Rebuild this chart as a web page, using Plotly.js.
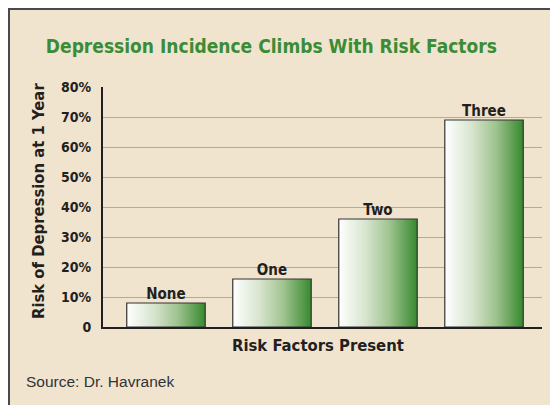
<!DOCTYPE html>
<html><head><meta charset="utf-8">
<script src="https://cdn.plot.ly/plotly-3.0.1.min.js"></script>
<style>
html,body{margin:0;padding:0;background:#fff;}
#frame{position:absolute;left:8px;top:8px;width:540px;height:395px;border-left:2px solid #4a4a4a;border-top:2px solid #4a4a4a;background:#f0e4cf;}
#chart{width:540px;height:395px;}
</style>
</head><body>
<div id="frame"><div id="chart"></div></div>
<script>
const categories = ['None', 'One', 'Two', 'Three'];
const riskValues = [8, 16, 36, 69];
const tickVals = [0, 10, 20, 30, 40, 50, 60, 70, 80];
const tickLabels = ['0', '10%', '20%', '30%', '40%', '50%', '60%', '70%', '80%'];

const COND = '"DejaVu Sans Condensed", "Liberation Sans Narrow", "Arial Narrow", sans-serif';
const barW = 0.74;
const traces = [];
categories.forEach((c, i) => {
  const x0 = i - barW / 2, x1 = i + barW / 2, v = riskValues[i];
  traces.push({
    type: 'scatter', mode: 'lines',
    x: [x0, x0, x1, x1, x0], y: [0, v, v, 0, 0],
    fill: 'toself',
    fillgradient: {type: 'horizontal', colorscale: [[0, '#ffffff'], [0.35, '#d6e4cd'], [0.65, '#9fc38f'], [1, '#37892f']]},
    line: {color: '#333333', width: 1.2},
    hoverinfo: 'skip', showlegend: false
  });
});
traces.push({
  type: 'scatter', mode: 'text',
  x: categories.map((c, i) => i), y: riskValues, text: categories,
  textposition: 'top center',
  textfont: {family: COND, size: 15, color: '#231f20', weight: 'bold'},
  hoverinfo: 'skip', showlegend: false
});

const layout = {
  width: 540, height: 395,
  margin: {l: 93, r: 8, t: 77, b: 78},
  paper_bgcolor: '#f0e4cf', plot_bgcolor: '#f0e4cf',
  font: {family: COND, color: '#231f20'},
  title: {text: 'Depression Incidence Climbs With Risk Factors', x: 0.484, xanchor: 'center', y: 0.909, yanchor: 'middle',
          font: {family: COND, size: 19, color: '#3a8c35', weight: 'bold'}},
  xaxis: {range: [-0.594, 3.547], showticklabels: false, ticks: '', showgrid: false, zeroline: false,
          showline: true, linecolor: '#231f20', linewidth: 2, fixedrange: true},
  yaxis: {range: [0, 80], tickvals: tickVals, ticktext: tickLabels, ticks: '', showgrid: true,
          gridcolor: '#b0aaa0', gridwidth: 1, zeroline: false, showline: true, linecolor: '#231f20', linewidth: 2,
          tickfont: {family: COND, size: 14, color: '#231f20', weight: 'bold'}, ticklabelstandoff: 7, fixedrange: true},
  annotations: [
    {text: 'Risk of Depression at 1 Year', textangle: -90, xref: 'paper', yref: 'paper', x: -0.148, y: 0.525,
     xanchor: 'center', yanchor: 'middle', showarrow: false, font: {family: COND, size: 16.5, color: '#231f20', weight: 'bold'}},
    {text: 'Risk Factors Present', xref: 'paper', yref: 'paper', x: 0.49, y: -0.075, xanchor: 'center', yanchor: 'middle',
     showarrow: false, font: {family: COND, size: 16.5, color: '#231f20', weight: 'bold'}},
    {text: 'Source: Dr. Havranek', xref: 'paper', yref: 'paper', x: -0.180, y: -0.225, xanchor: 'left', yanchor: 'middle',
     showarrow: false, font: {family: '"Liberation Sans", Arial, sans-serif', size: 15.5, color: '#333333'}}
  ]
};
Plotly.newPlot('chart', traces, layout, {displayModeBar: false, staticPlot: true});
</script>
</body></html>
